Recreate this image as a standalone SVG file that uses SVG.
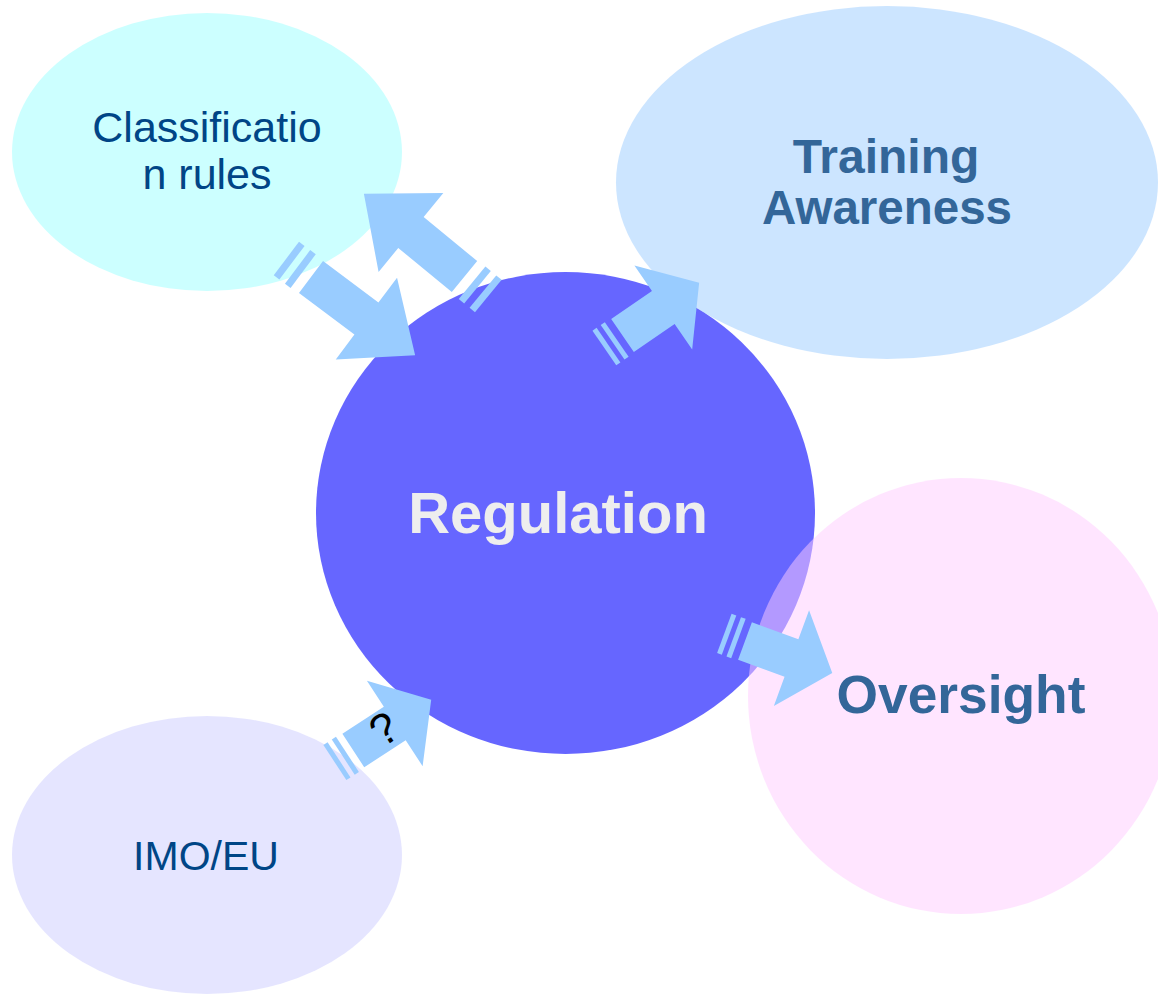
<svg xmlns="http://www.w3.org/2000/svg" xmlns:xlink="http://www.w3.org/1999/xlink" width="1158" height="994" viewBox="0 0 1158 994">
<style>
.reg{font-family:"Liberation Sans",Arial,sans-serif;fill:#004586;text-anchor:middle}
.bold{font-family:"Liberation Sans",Arial,sans-serif;font-weight:bold;fill:#336699;text-anchor:middle}
.arrow{fill:#99ccff}
</style>
<defs>
<g id="arr">
<polygon points="0,-20 49.5,-20 49.5,-51 93,0 49.5,51 49.5,20 0,20"/>
<rect x="-12" y="-21" width="5" height="42"/>
<rect x="-22" y="-21" width="5" height="42"/>
</g>
</defs>
<rect width="1158" height="994" fill="#ffffff"/>
<g id="classification">
<ellipse cx="207" cy="152" rx="195" ry="139" fill="#99ffff" fill-opacity="0.5"/>
<text class="reg" x="207" y="142" font-size="43">Classificatio</text>
<text class="reg" x="207" y="189" font-size="43">n rules</text>
</g>
<g id="imo-eu">
<ellipse cx="207" cy="855" rx="195" ry="139" fill="#ccccff" fill-opacity="0.5"/>
<text class="reg" x="206" y="870" font-size="41">IMO/EU</text>
</g>
<g id="regulation">
<ellipse cx="565.5" cy="513" rx="249.5" ry="241" fill="#6666ff"/>
<text class="bold" x="558" y="533" font-size="58" style="fill:#eeeeee">Regulation</text>
</g>
<g id="training">
<ellipse cx="887" cy="182.5" rx="271" ry="176.5" fill="#99ccff" fill-opacity="0.5"/>
<text class="bold" x="886" y="173" font-size="48">Training</text>
<text class="bold" x="887" y="224" font-size="47.5">Awareness</text>
</g>
<g id="oversight">
<ellipse cx="961" cy="696" rx="213" ry="218" fill="#ffccff" fill-opacity="0.5"/>
<text class="bold" x="961" y="713" font-size="53.3">Oversight</text>
</g>
<g id="connectors" class="arrow">
<use xlink:href="#arr" transform="translate(311,277) rotate(36.9) scale(1.4,1)"/>
<use xlink:href="#arr" transform="translate(464.5,276.5) rotate(-140.6) scale(1.4,1)"/>
<use xlink:href="#arr" transform="translate(622.5,335.5) rotate(-34.5)"/>
<use xlink:href="#arr" transform="translate(745,641) rotate(20.2)"/>
<use xlink:href="#arr" transform="translate(353.3,750.5) rotate(-33.1)"/>
<text x="384" y="744" transform="rotate(-33 384 729)" font-family="Liberation Sans, Arial, sans-serif" font-size="44" fill="#000000" text-anchor="middle">?</text>
</g>
</svg>
